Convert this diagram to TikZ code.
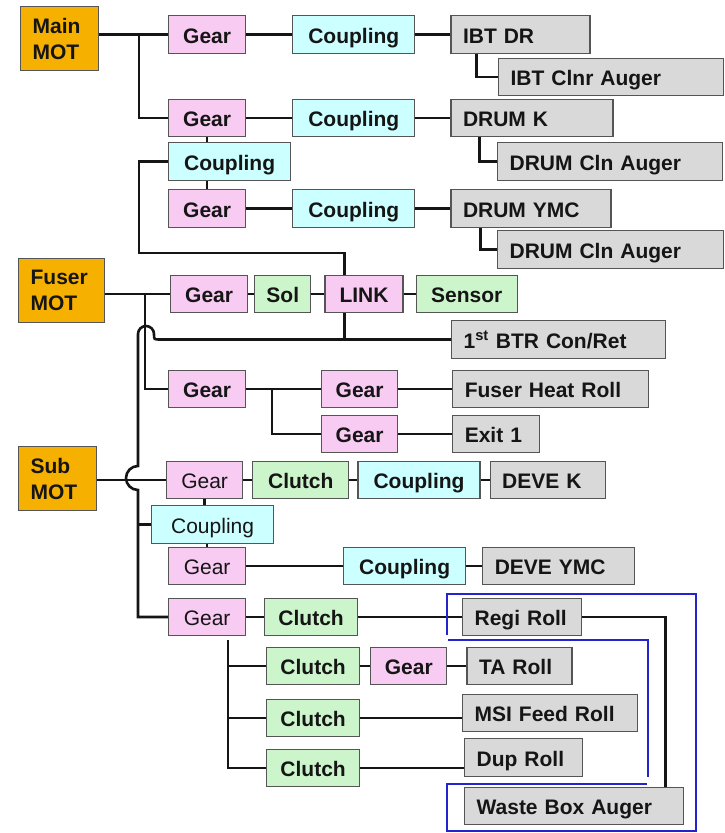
\documentclass[tikz,border=0pt]{standalone}
\usepackage{fontspec}
\setmainfont{Liberation Sans}
\usetikzlibrary{positioning}
\definecolor{motorfill}{HTML}{F5B000}
\definecolor{gearfill}{HTML}{F8CBF2}
\definecolor{coupfill}{HTML}{CCFFFF}
\definecolor{clutchfill}{HTML}{CCF5CC}
\definecolor{partfill}{HTML}{D9D9D9}
\definecolor{edge}{HTML}{555555}
\definecolor{ink}{HTML}{151515}
\definecolor{frame}{HTML}{2424CC}

\begin{document}
\begin{tikzpicture}[x=1pt, y=-1pt,
  % one pixel of the sheet is one point, y runs downwards
  box/.style      = {draw=edge, line width=1.2pt, inner sep=0pt, minimum height=37.5pt,
                     font=\bfseries\fontsize{21}{26}\selectfont, text=ink},
  % one-line boxes share a baseline whatever the letters
  line/.style     = {box, text height=21pt, text depth=4pt},
  motor/.style    = {box, fill=motorfill, inner xsep=12pt, align=left,
                     minimum height=64pt, text width=#1},
  gear/.style     = {line, fill=gearfill, minimum width=77pt},
  coupling/.style = {line, fill=coupfill, minimum width=122pt},
  clutch/.style   = {line, fill=clutchfill, minimum width=93pt},
  driven/.style   = {line, fill=partfill, inner xsep=12pt, align=left, text width=#1},
  thin/.style     = {font=\fontsize{21}{26}\selectfont},
  wire/.style     = {draw=ink, line width=2.6pt},
  bracket/.style  = {draw=frame, line width=1.8pt},
]
\useasboundingbox (0,0) rectangle (725,833);

% -------------------------------------------------------------- main motor --
\node[motor=54pt, anchor=west] (main) at (20,38.5) {Main\\MOT};
\node[gear, anchor=west] (g1) at (168,34.5) {Gear};
\node[coupling, right=46pt of g1] (c1) {Coupling};
\node[driven=115pt, right=35pt of c1] (ibt) {IBT DR};
\node[driven=201pt, anchor=west] (ibtc) at (498,77) {IBT Clnr Auger};

\node[gear, anchor=west] (g2) at (168,118) {Gear};
\node[coupling, right=46pt of g2] (c2) {Coupling};
\node[driven=138pt, right=35pt of c2] (drk) {DRUM K};
\node[driven=201pt, anchor=west] (drkc) at (497,161.5) {DRUM Cln Auger};

\node[coupling, anchor=west] (cm) at (168,161.5) {Coupling};
\node[gear, anchor=west] (g3) at (168,208.5) {Gear};
\node[coupling, right=46pt of g3] (c3) {Coupling};
\node[driven=136pt, right=35pt of c3] (dry) {DRUM YMC};
\node[driven=202pt, anchor=west] (dryc) at (497,249.5) {DRUM Cln Auger};

% ------------------------------------------------------------- fuser motor --
\node[motor=62pt, anchor=west] (fuser) at (18,290.5) {Fuser\\MOT};
\node[gear, anchor=west] (g4) at (170,294) {Gear};
\node[clutch, minimum width=56pt, right=6pt of g4] (sol) {Sol};
\node[gear, minimum width=78pt, right=13pt of sol] (link) {LINK};
\node[clutch, minimum width=101pt, right=12pt of link] (sensor) {Sensor};
\node[driven=190pt, anchor=west] (btr) at (451,339.5) {1\textsuperscript{st} BTR Con/Ret};

\node[gear, anchor=west] (g5) at (168,389) {Gear};
\node[gear, minimum width=76pt, anchor=west] (g6) at (321,389) {Gear};
\node[driven=172pt, right=54pt of g6] (fhr) {Fuser Heat Roll};
\node[gear, minimum width=76pt, anchor=west] (g7) at (321,434) {Gear};
\node[driven=63pt, right=54pt of g7] (exit) {Exit 1};

% --------------------------------------------------------------- sub motor --
\node[motor=54pt, anchor=west] (sub) at (18,478.5) {Sub\\MOT};
\node[gear, thin, minimum width=76pt, anchor=west] (g8) at (166,480) {Gear};
\node[clutch, minimum width=96pt, right=9pt of g8] (cl1) {Clutch};
\node[coupling, right=8pt of cl1] (c4) {Coupling};
\node[driven=91pt, right=9pt of c4] (devk) {DEVE K};

\node[coupling, thin, anchor=west] (c5) at (151,524.5) {Coupling};
\node[gear, thin, anchor=west] (g9) at (168,566) {Gear};
\node[coupling, anchor=west] (c6) at (343,566) {Coupling};
\node[driven=128pt, right=16pt of c6] (devy) {DEVE YMC};

\node[gear, thin, anchor=west] (g10) at (168,617) {Gear};
\node[clutch, anchor=west] (cl2) at (264,617) {Clutch};
\node[driven=95pt, anchor=west] (regi) at (462,617) {Regi Roll};

\node[clutch, anchor=west] (cl3) at (266,666) {Clutch};
\node[gear, minimum width=76pt, right=10pt of cl3] (g11) {Gear};
\node[driven=81pt, right=19pt of g11] (ta) {TA Roll};
\node[clutch, anchor=west] (cl4) at (266,718) {Clutch};
\node[driven=151pt, anchor=west] (msi) at (462,713) {MSI Feed Roll};
\node[clutch, anchor=west] (cl5) at (266,768) {Clutch};
\node[driven=94pt, anchor=west] (dup) at (464,757.5) {Dup Roll};
\node[driven=195pt, anchor=west] (wba) at (464,806) {Waste Box Auger};

% ------------------------------------------------------------------- wires --
\coordinate (mj) at (139,34.5);
\coordinate (mb) at (139,253);
\draw[wire] (main.east |- g1.west) -- (g1.west);
\draw[wire] (mj) |- (g2.west);
\draw[wire] (g1) -- (c1) -- (ibt);
\draw[wire] ([xshift=26pt]ibt.south west) |- (ibtc.west);
\draw[wire] (g2) -- (c2) -- (drk);
\draw[wire] ([xshift=29pt]drk.south west) |- (drkc.west);
\draw[wire] (g2.south) -- (g2.south |- cm.north);
\draw[wire] (cm.south -| g3.north) -- (g3.north);
\draw[wire] (g3) -- (c3) -- (dry);
\draw[wire] ([xshift=30pt]dry.south west) |- (dryc.west);
\draw[wire] (cm.west) -| (mb) -| ([xshift=20pt]link.north west);

\coordinate (fj) at (145,294);
\draw[wire] (fuser.east |- g4.west) -- (g4.west);
\draw[wire] (fj) |- (g5.west);
\draw[wire] (g4) -- (sol) -- (link) -- (sensor);
\draw[wire] ([xshift=20pt]link.south west) -- ([xshift=20pt]link.south west |- btr.west);
\coordinate (gj) at (272,389);
\draw[wire] (g5) -- (g6) -- (fhr);
\draw[wire] (gj) |- (g7.west);
\draw[wire] (g7) -- (exit.west |- g7);

% the sub bus hops over the fuser drop and the sub motor feed
\draw[wire] (btr.west) -- (160,339.5) .. controls (154,339.5) .. (154,334)
  .. controls (154,329.6) and (150.4,326) .. (146,326)
  .. controls (141.6,326) and (138,329.6) .. (138,334) -- (138,466)
  .. controls (131.4,466) and (126,471.4) .. (126,478)
  .. controls (126,484.6) and (131.4,490) .. (138,490) -- (138,617) -- (g10.west);
\draw[wire] (c5.west) -- ++(-13pt,0pt);

\draw[wire] (sub.east |- g8.west) -- (g8.west);
\draw[wire] (g8) -- (cl1) -- (c4) -- (devk);
\draw[wire] (g8.south) -- (g8.south |- c5.north);
\draw[wire] (c5.south -| g9.north) -- (g9.north);
\draw[wire] (g9) -- (c6) -- (devy);
\draw[wire] (g10) -- (cl2) -- (regi);
\draw[wire] (regi.east) -| ([xshift=-19pt]wba.north east);

\coordinate (kj) at (228,640);
\draw[wire] (kj) |- (cl5.west);
\draw[wire] (cl3.west) -- ++(-38pt,0pt);
\draw[wire] (cl4.west) -- ++(-38pt,0pt);
\draw[wire] (cl3) -- (g11) -- (ta);
\draw[wire] (cl4.east) -- (cl4.east -| msi.west);
\draw[wire] (cl5.east) -- (cl5.east -| dup.west);

% ----------------------------------------------------------- blue outline --
\draw[bracket] (447,635) -- (447,594) -- (696,594) -- (696,831) -- (447,831)
  -- (447,784) -- (647,784);
\draw[bracket] (448,640) -- (648,640) -- (648,777);

\end{tikzpicture}
\end{document}
